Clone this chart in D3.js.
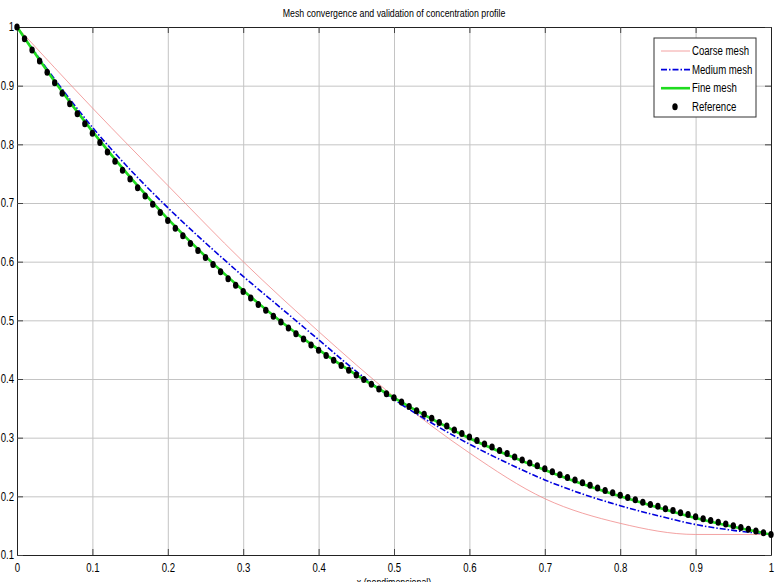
<!DOCTYPE html>
<html>
<head>
<meta charset="utf-8">
<script src="https://cdn.jsdelivr.net/npm/d3@7"></script>
<style>
  html, body { margin: 0; padding: 0; background: #fff; }
  svg text { font-family: "Liberation Sans", Arial, sans-serif; fill: #000; }
</style>
</head>
<body>
<div id="chart-area"></div>
<script>
// Reference solution (dots)
const refX = [0.00,0.01,0.02,0.03,0.04,0.05,0.06,0.07,0.08,0.09,0.10,0.11,0.12,0.13,0.14,0.15,0.16,0.17,0.18,0.19,
  0.20,0.21,0.22,0.23,0.24,0.25,0.26,0.27,0.28,0.29,0.30,0.31,0.32,0.33,0.34,0.35,0.36,0.37,0.38,0.39,
  0.40,0.41,0.42,0.43,0.44,0.45,0.46,0.47,0.48,0.49,0.50,0.51,0.52,0.53,0.54,0.55,0.56,0.57,0.58,0.59,
  0.60,0.61,0.62,0.63,0.64,0.65,0.66,0.67,0.68,0.69,0.70,0.71,0.72,0.73,0.74,0.75,0.76,0.77,0.78,0.79,
  0.80,0.81,0.82,0.83,0.84,0.85,0.86,0.87,0.88,0.89,0.90,0.91,0.92,0.93,0.94,0.95,0.96,0.97,0.98,0.99,1.00];
const refY = [1.000,0.980,0.961,0.942,0.923,0.905,0.887,0.869,0.852,0.835,0.819,0.803,0.787,0.771,0.756,0.741,0.726,0.712,0.698,0.684,
  0.670,0.657,0.644,0.631,0.619,0.607,0.595,0.583,0.571,0.560,0.549,0.538,0.527,0.517,0.507,0.497,0.487,0.477,0.468,0.458,
  0.449,0.440,0.432,0.423,0.415,0.407,0.399,0.391,0.383,0.375,0.368,0.361,0.353,0.346,0.340,0.333,0.326,0.320,0.313,0.307,
  0.301,0.295,0.289,0.284,0.278,0.273,0.267,0.262,0.257,0.252,0.247,0.242,0.237,0.232,0.228,0.223,0.219,0.214,0.210,0.206,
  0.202,0.198,0.194,0.190,0.186,0.183,0.179,0.176,0.172,0.169,0.165,0.162,0.159,0.156,0.153,0.150,0.147,0.144,0.141,0.138,0.135];

// mesh solutions
const coarseX = [0, 0.1, 0.2, 0.3, 0.4, 0.5, 0.6, 0.7, 0.8, 0.9, 1.0];
const coarseY = [1.000, 0.862, 0.730, 0.600, 0.481, 0.370, 0.274, 0.196, 0.154, 0.135, 0.135];

const meshX = [0, 0.05, 0.10, 0.15, 0.20, 0.25, 0.30, 0.35, 0.40, 0.45, 0.50,
  0.55, 0.60, 0.65, 0.70, 0.75, 0.80, 0.85, 0.90, 0.95, 1.00];
const mediumY = [1.000, 0.911, 0.829, 0.757, 0.692, 0.632, 0.575, 0.521, 0.467, 0.413, 0.365,
  0.325, 0.289, 0.257, 0.228, 0.204, 0.184, 0.167, 0.152, 0.142, 0.135];
const fineY = [1.000, 0.907, 0.822, 0.744, 0.673, 0.609, 0.551, 0.498, 0.450, 0.407, 0.368,
  0.332, 0.299, 0.271, 0.245, 0.221, 0.200, 0.181, 0.163, 0.148, 0.135];

const xTicks = [0, 0.1, 0.2, 0.3, 0.4, 0.5, 0.6, 0.7, 0.8, 0.9, 1];
const xTickLabels = ["0", "0.1", "0.2", "0.3", "0.4", "0.5", "0.6", "0.7", "0.8", "0.9", "1"];
const yTicks = [0.1, 0.2, 0.3, 0.4, 0.5, 0.6, 0.7, 0.8, 0.9, 1];
const yTickLabels = ["0.1", "0.2", "0.3", "0.4", "0.5", "0.6", "0.7", "0.8", "0.9", "1"];

const seriesNames = ["Coarse mesh", "Medium mesh", "Fine mesh", "Reference"];

const svgWidth = 783;
const svgHeight = 582;
const margin = { top: 27, right: 12, bottom: 27, left: 17 };
const width = svgWidth - margin.left - margin.right;
const height = svgHeight - margin.top - margin.bottom;

// the original uses a narrow sans face: squeeze glyphs horizontally
const narrow = 0.8;
function squeeze(sel) {
  sel.each(function() {
    const w = this.getComputedTextLength();
    d3.select(this)
      .attr("textLength", w * narrow)
      .attr("lengthAdjust", "spacingAndGlyphs");
  });
}

const root = d3.select("#chart-area")
  .append("svg")
  .attr("width", svgWidth)
  .attr("height", svgHeight);

const svg = root.append("g")
  .attr("transform", `translate(${margin.left}, ${margin.top})`);

const xScale = d3.scaleLinear().domain([0, 1]).range([0, width]);
const yScale = d3.scaleLinear().domain([0.1, 1]).range([height, 0]);

// grid
svg.append("g")
  .attr("class", "grid")
  .attr("transform", `translate(0, ${height})`)
  .call(d3.axisBottom(xScale).tickValues(xTicks).tickSize(-height).tickFormat(""))
  .call(g => g.select(".domain").remove())
  .selectAll("line")
  .attr("stroke", "#c4c4c4");

svg.append("g")
  .attr("class", "grid")
  .call(d3.axisLeft(yScale).tickValues(yTicks).tickSize(-width).tickFormat(""))
  .call(g => g.select(".domain").remove())
  .selectAll("line")
  .attr("stroke", "#c4c4c4");

// axes (MATLAB style: ticks inside, box on)
const tickLen = 6;

const xAxis = svg.append("g")
  .attr("transform", `translate(0, ${height})`)
  .call(d3.axisBottom(xScale)
    .tickValues(xTicks)
    .tickSizeInner(-tickLen)
    .tickSizeOuter(0)
    .tickPadding(8)
    .tickFormat((d, i) => xTickLabels[i]));

const yAxis = svg.append("g")
  .call(d3.axisLeft(yScale)
    .tickValues(yTicks)
    .tickSizeInner(-tickLen)
    .tickSizeOuter(0)
    .tickPadding(3)
    .tickFormat((d, i) => yTickLabels[i]));

svg.append("g")
  .call(d3.axisTop(xScale).tickValues(xTicks).tickSizeInner(-tickLen).tickSizeOuter(0).tickFormat(""));

svg.append("g")
  .attr("transform", `translate(${width}, 0)`)
  .call(d3.axisRight(yScale).tickValues(yTicks).tickSizeInner(-tickLen).tickSizeOuter(0).tickFormat(""));

svg.selectAll(".domain").attr("stroke", "#222");
svg.selectAll(".tick line").filter(function() { return !this.closest(".grid"); })
  .attr("stroke", "#444");

[xAxis, yAxis].forEach(a => a.selectAll("text")
  .style("font-size", "12px")
  .attr("font-family", null)
  .attr("fill", "#000")
  .call(squeeze));

// lines
const lineGen = d3.line()
  .x(d => xScale(d[0]))
  .y(d => yScale(d[1]));

svg.append("path")
  .datum(coarseX.map((x, i) => [x, coarseY[i]]))
  .attr("fill", "none")
  .attr("stroke", "#f08a8a")
  .attr("stroke-width", 0.8)
  .attr("d", lineGen.curve(d3.curveMonotoneX));

svg.append("path")
  .datum(meshX.map((x, i) => [x, mediumY[i]]))
  .attr("fill", "none")
  .attr("stroke", "#0000dd")
  .attr("stroke-width", 1.6)
  .attr("stroke-dasharray", "6,2,1.5,2")
  .attr("d", lineGen.curve(d3.curveMonotoneX));

svg.append("path")
  .datum(meshX.map((x, i) => [x, fineY[i]]))
  .attr("fill", "none")
  .attr("stroke", "#1fdc1f")
  .attr("stroke-width", 2.6)
  .attr("d", lineGen.curve(d3.curveMonotoneX));

svg.selectAll(".ref-dot")
  .data(refX.map((x, i) => [x, refY[i]]))
  .join("ellipse")
  .attr("class", "ref-dot")
  .attr("cx", d => xScale(d[0]))
  .attr("cy", d => yScale(d[1]))
  .attr("rx", 2.7)
  .attr("ry", 3.5)
  .attr("fill", "#000");

// title + x label
root.append("text")
  .attr("x", margin.left + width / 2)
  .attr("y", 17)
  .attr("text-anchor", "middle")
  .style("font-size", "11px")
  .text("Mesh convergence and validation of concentration profile")
  .call(squeeze);

root.append("text")
  .attr("x", margin.left + width / 2)
  .attr("y", 586)
  .attr("text-anchor", "middle")
  .style("font-size", "11px")
  .text("x (nondimensional)")
  .call(squeeze);

// legend
const legend = root.append("g").attr("class", "legend");
const lgX = 654, lgY = 38, lgW = 102, lgH = 79;
legend.append("rect")
  .attr("x", lgX).attr("y", lgY)
  .attr("width", lgW).attr("height", lgH)
  .attr("fill", "#fff")
  .attr("stroke", "#333")
  .attr("stroke-width", 1);

const legendStyles = [
  { stroke: "#f08a8a", width: 0.8, dash: null },
  { stroke: "#0000dd", width: 1.6, dash: "6,2,1.5,2" },
  { stroke: "#1fdc1f", width: 2.6, dash: null },
  null
];

seriesNames.forEach((name, i) => {
  const cy = 51 + i * 18.6;
  const st = legendStyles[i];
  if (st) {
    legend.append("line")
      .attr("x1", 661).attr("x2", 690)
      .attr("y1", cy).attr("y2", cy)
      .attr("stroke", st.stroke)
      .attr("stroke-width", st.width)
      .attr("stroke-dasharray", st.dash);
  } else {
    legend.append("ellipse")
      .attr("cx", 675).attr("cy", cy)
      .attr("rx", 2.7).attr("ry", 3.5)
      .attr("fill", "#000");
  }
  legend.append("text")
    .attr("x", 692)
    .attr("y", cy + 4)
    .style("font-size", "12px")
    .text(name)
    .call(squeeze);
});
</script>
</body>
</html>
